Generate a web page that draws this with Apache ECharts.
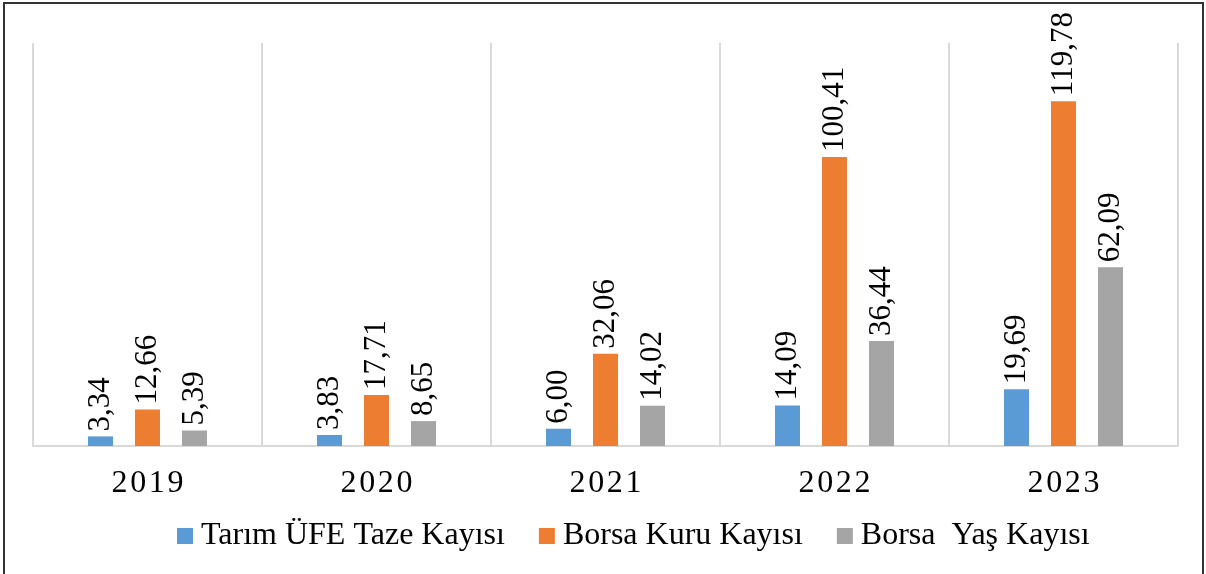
<!DOCTYPE html>
<html>
<head>
<meta charset="utf-8">
<script src="https://cdn.jsdelivr.net/npm/echarts@6/dist/echarts.min.js"></script>
<style>
  html, body { margin: 0; padding: 0; background: #fff; }
  #chart { width: 1206px; height: 574px; }
</style>
</head>
<body>
<div id="chart"></div>
<script>
  var years = ['2019', '2020', '2021', '2022', '2023'];
  var tarimUfe = [3.34, 3.83, 6.00, 14.09, 19.69];
  var borsaKuru = [12.66, 17.71, 32.06, 100.41, 119.78];
  var borsaYas = [5.39, 8.65, 14.02, 36.44, 62.09];

  var dom = document.getElementById('chart');
  var myChart = echarts.init(dom, null, { renderer: 'canvas' });
  var serif = "'Times New Roman', 'Liberation Serif', 'DejaVu Serif', serif";

  var labelStyle = {
    show: true,
    position: 'top',
    rotate: 90,
    align: 'left',
    verticalAlign: 'middle',
    distance: 5,
    color: '#000',
    fontFamily: serif,
    fontSize: 31,
    formatter: function (p) {
      return p.value.toFixed(2).replace('.', ',');
    }
  };

  function makeSeries(name, data, color) {
    return {
      name: name,
      type: 'bar',
      data: data,
      barWidth: 25,
      barGap: '88%',
      itemStyle: { color: color },
      label: labelStyle
    };
  }

  var option = {
    animation: false,
    graphic: [{
      type: 'rect',
      shape: { x: 4, y: 3, width: 1199, height: 620 },
      style: { fill: 'none', stroke: '#333', lineWidth: 2 }
    }],
    legend: {
      bottom: 17,
      left: 172,
      itemWidth: 16,
      itemHeight: 16,
      itemGap: 34,
      icon: 'rect',
      textStyle: { fontFamily: serif, fontSize: 32, color: '#000', padding: [0, 0, 0, 3] },
      data: ['Tarım ÜFE Taze Kayısı', 'Borsa Kuru Kayısı', 'Borsa  Yaş Kayısı']
    },
    grid: { left: 33, right: 28, top: 43, bottom: 128 },
    xAxis: {
      type: 'category',
      data: years,
      axisLine: { lineStyle: { color: '#d9d9d9', width: 2 } },
      axisTick: { show: false },
      splitLine: { show: true, interval: 0, lineStyle: { color: '#d9d9d9', width: 2 } },
      axisLabel: {
        margin: 22,
        color: '#000',
        fontFamily: serif,
        fontSize: 32,
        formatter: function (v) { return v.split('').join('\u200A'); }
      }
    },
    yAxis: {
      type: 'value',
      min: 0,
      max: 140,
      show: false,
      splitLine: { show: false }
    },
    series: [
      makeSeries('Tarım ÜFE Taze Kayısı', tarimUfe, '#5B9BD5'),
      makeSeries('Borsa Kuru Kayısı', borsaKuru, '#ED7D31'),
      makeSeries('Borsa  Yaş Kayısı', borsaYas, '#A5A5A5')
    ]
  };
  myChart.setOption(option);
</script>
</body>
</html>
